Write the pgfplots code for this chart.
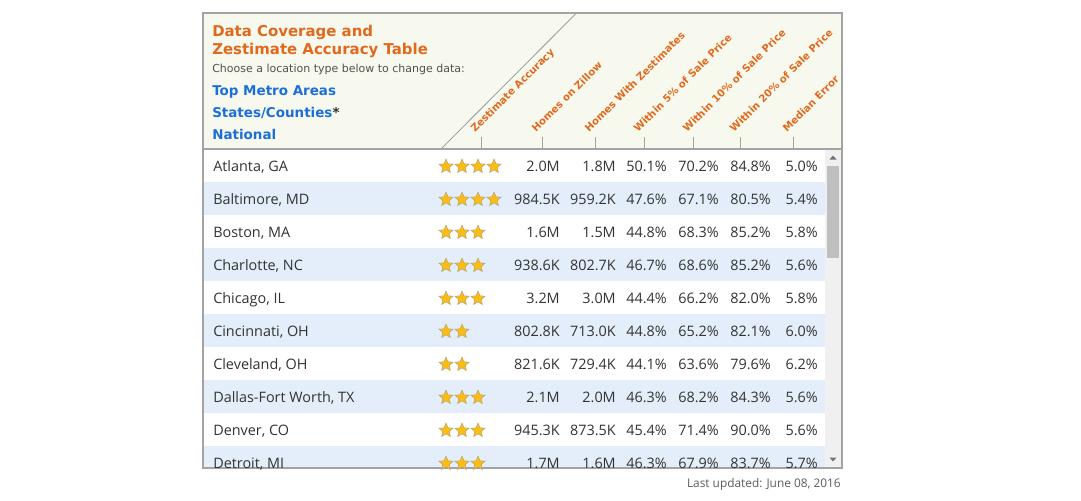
\documentclass[border=0pt]{standalone}
\usepackage{fontspec}
\setmainfont{Open Sans}
\newfontfamily\verd{DejaVu Sans}
\usepackage{pgfplots}
\pgfplotsset{compat=1.18}
\usepackage{pgfplotstable}

\definecolor{zorange}{HTML}{E2691C}
\definecolor{zblue}{HTML}{1C6FD9}
\definecolor{rowblue}{HTML}{E3EEFA}
\definecolor{hdrbg}{HTML}{F7F9EF}
\definecolor{bordergray}{HTML}{A3A3A3}
\definecolor{txt}{HTML}{333333}
\definecolor{stargold}{HTML}{FBBD12}
\definecolor{staredge}{HTML}{B3A27A}

\pgfdeclareplotmark{fstar}{%
  \pgfpathmoveto{\pgfpointpolar{90}{\pgfplotmarksize}}%
  \pgfpathlineto{\pgfpointpolar{126}{0.45\pgfplotmarksize}}%
  \pgfpathlineto{\pgfpointpolar{162}{\pgfplotmarksize}}%
  \pgfpathlineto{\pgfpointpolar{198}{0.45\pgfplotmarksize}}%
  \pgfpathlineto{\pgfpointpolar{234}{\pgfplotmarksize}}%
  \pgfpathlineto{\pgfpointpolar{270}{0.45\pgfplotmarksize}}%
  \pgfpathlineto{\pgfpointpolar{306}{\pgfplotmarksize}}%
  \pgfpathlineto{\pgfpointpolar{342}{0.45\pgfplotmarksize}}%
  \pgfpathlineto{\pgfpointpolar{18}{\pgfplotmarksize}}%
  \pgfpathlineto{\pgfpointpolar{54}{0.45\pgfplotmarksize}}%
  \pgfpathclose
  \pgfusepathqfillstroke}

\newcommand\cellfont{\fontsize{10.8}{12}\selectfont}
\newcommand\hdrfont{\verd\bfseries\fontsize{7.6}{9}\selectfont}

\pgfplotstableread[col sep=semicolon]{
y;city;hz;hwz;w5;w10;w20;med
171.5;Atlanta, GA;2.0M;1.8M;50.1;70.2;84.8;5.0
204.5;Baltimore, MD;984.5K;959.2K;47.6;67.1;80.5;5.4
237.5;Boston, MA;1.6M;1.5M;44.8;68.3;85.2;5.8
270.5;Charlotte, NC;938.6K;802.7K;46.7;68.6;85.2;5.6
303.5;Chicago, IL;3.2M;3.0M;44.4;66.2;82.0;5.8
336.5;Cincinnati, OH;802.8K;713.0K;44.8;65.2;82.1;6.0
369.5;Cleveland, OH;821.6K;729.4K;44.1;63.6;79.6;6.2
402.5;Dallas-Fort Worth, TX;2.1M;2.0M;46.3;68.2;84.3;5.6
435.5;Denver, CO;945.3K;873.5K;45.4;71.4;90.0;5.6
468.5;Detroit, MI;1.7M;1.6M;46.3;67.9;83.7;5.7
}\tbl

\pgfplotstableread{
x y
446 166.5
462 166.5
478 166.5
494 166.5
446 199.5
462 199.5
478 199.5
494 199.5
446 232.5
462 232.5
478 232.5
446 265.5
462 265.5
478 265.5
446 298.5
462 298.5
478 298.5
446 331.5
462 331.5
446 364.5
462 364.5
446 397.5
462 397.5
478 397.5
446 430.5
462 430.5
478 430.5
446 463.5
462 463.5
478 463.5
}\stars

\pgfplotsset{
  cell/.style={draw=none, mark=none, point meta=explicit symbolic,
    nodes near coords,
    every node near coord/.append style={anchor=base east, inner sep=0pt, font=\cellfont, text=txt}},
}

\begin{document}
\begin{tikzpicture}
\begin{axis}[
  scale only axis, width=810.75pt, height=375pt,
  xmin=0, xmax=1081, ymin=0, ymax=500, y dir=reverse,
  hide axis, clip=false,
]
% background
\fill[white] (axis cs:0,0) rectangle (axis cs:1081,500);
\fill[hdrbg] (axis cs:203,13) rectangle (axis cs:842,149);
% row stripes
\foreach \r in {182,248,314,380,446}{
  \edef\tmp{\noexpand\fill[rowblue] (axis cs:204,\r) rectangle (axis cs:825,\r+33);}\tmp
}
% stars
\addplot[only marks, mark=fstar, mark size=5.6pt,
  mark options={fill=stargold, draw=staredge, line width=0.35pt}] table[x=x,y=y] {\stars};
% city names
\addplot[draw=none, mark=none, point meta=explicit symbolic, nodes near coords,
  every node near coord/.append style={anchor=base west, inner sep=0pt, font=\cellfont, text=txt}]
  table[x expr=213, y=y, meta=city] {\tbl};
\addplot[cell] table[x expr=560, y=y, meta=hz] {\tbl};
\addplot[cell] table[x expr=616, y=y, meta=hwz] {\tbl};
\addplot[cell, nodes near coords={\pgfplotspointmeta\%}] table[x expr=667, y=y, meta=w5] {\tbl};
\addplot[cell, nodes near coords={\pgfplotspointmeta\%}] table[x expr=719, y=y, meta=w10] {\tbl};
\addplot[cell, nodes near coords={\pgfplotspointmeta\%}] table[x expr=771, y=y, meta=w20] {\tbl};
\addplot[cell, nodes near coords={\pgfplotspointmeta\%}] table[x expr=818, y=y, meta=med] {\tbl};
% cover below table
\fill[white] (axis cs:203,468) rectangle (axis cs:842,482);
% scrollbar
\fill[black!6] (axis cs:825,150) rectangle (axis cs:841,467.5);
\fill[black!25] (axis cs:827,166) rectangle (axis cs:839,258);
\fill[black!55] (axis cs:829.5,159.5) -- (axis cs:836.5,159.5) -- (axis cs:833,155.5) -- cycle;
\fill[black!55] (axis cs:829.5,457.5) -- (axis cs:836.5,457.5) -- (axis cs:833,461.5) -- cycle;
% borders
\draw[bordergray, line width=0.9pt] (axis cs:203,149) -- (axis cs:842,149);
\draw[bordergray, line width=0.9pt] (axis cs:203,13) rectangle (axis cs:842,468);
% header diagonal and ticks
\draw[bordergray, line width=0.7pt] (axis cs:441.5,148.5) -- (axis cs:576.5,13);
\foreach \t in {481.3,542.3,595.3,644.3,693.3,740.3,793.3}{
  \edef\tmp{\noexpand\draw[bordergray, line width=0.7pt] (axis cs:\t,136.5) -- (axis cs:\t,148.5);}\tmp
}
% header text
\node[anchor=base west, inner sep=0pt, text=zorange, font=\verd\bfseries\fontsize{11.2}{14}\selectfont] at (axis cs:212,36.5) {Data Coverage and};
\node[anchor=base west, inner sep=0pt, text=zorange, font=\verd\bfseries\fontsize{11.2}{14}\selectfont] at (axis cs:212,54) {Zestimate Accuracy Table};
\node[anchor=base west, inner sep=0pt, text=txt!85, font=\verd\fontsize{8.25}{10}\selectfont] at (axis cs:212,72) {Choose a location type below to change data:};
\node[anchor=base west, inner sep=0pt, text=zblue, font=\verd\bfseries\fontsize{10.1}{12}\selectfont] at (axis cs:212,95.7) {Top Metro Areas};
\node[anchor=base west, inner sep=0pt, text=zblue, font=\verd\bfseries\fontsize{10.1}{12}\selectfont] at (axis cs:212,117.3) {States/Counties\textcolor{txt}{*}};
\node[anchor=base west, inner sep=0pt, text=zblue, font=\verd\bfseries\fontsize{10.1}{12}\selectfont] at (axis cs:212,139) {National};
% rotated column headers
\node[anchor=base west, inner sep=0pt, rotate=45, text=zorange, font=\hdrfont] at (axis cs:475,133) {Zestimate Accuracy};
\node[anchor=base west, inner sep=0pt, rotate=45, text=zorange, font=\hdrfont] at (axis cs:536,133) {Homes on Zillow};
\node[anchor=base west, inner sep=0pt, rotate=45, text=zorange, font=\hdrfont] at (axis cs:589,133) {Homes With Zestimates};
\node[anchor=base west, inner sep=0pt, rotate=45, text=zorange, font=\hdrfont] at (axis cs:638,133) {Within 5\% of Sale Price};
\node[anchor=base west, inner sep=0pt, rotate=45, text=zorange, font=\hdrfont] at (axis cs:687,133) {Within 10\% of Sale Price};
\node[anchor=base west, inner sep=0pt, rotate=45, text=zorange, font=\hdrfont] at (axis cs:734,133) {Within 20\% of Sale Price};
\node[anchor=base west, inner sep=0pt, rotate=45, text=zorange, font=\hdrfont] at (axis cs:787,133) {Median Error};
% footer
\node[anchor=base east, inner sep=0pt, text=txt!80, font=\fontsize{8.9}{10}\selectfont] at (axis cs:841,487.5) {Last updated: June 08, 2016};
\end{axis}
\end{tikzpicture}
\end{document}
